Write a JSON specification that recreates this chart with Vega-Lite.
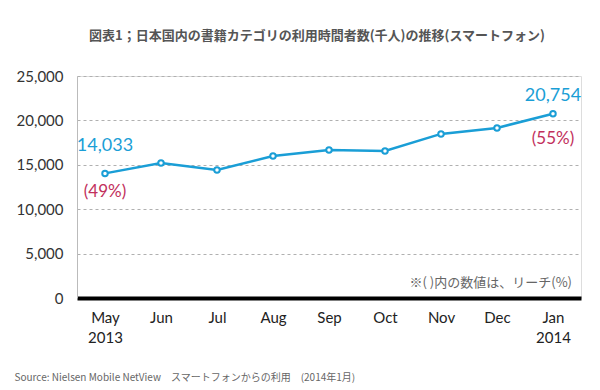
{
  "$schema": "https://vega.github.io/schema/vega-lite/v6.json",
  "width": 504,
  "height": 222,
  "autosize": {"type": "none"},
  "padding": {"left": 77, "top": 76, "right": 19, "bottom": 92},
  "background": "white",
  "title": {
    "text": "図表1；日本国内の書籍カテゴリの利用時間者数(千人)の推移(スマートフォン)",
    "font": "Noto Sans CJK JP",
    "fontSize": 13,
    "fontWeight": "bold",
    "color": "#555555",
    "anchor": "middle",
    "dx": -12,
    "offset": 26
  },
  "data": {
    "values": [
      {"month": "May", "label": "May 2013", "users": 14033, "value_label": "14,033", "reach": "(49%)"},
      {"month": "Jun", "label": "Jun", "users": 15200},
      {"month": "Jul", "label": "Jul", "users": 14420},
      {"month": "Aug", "label": "Aug", "users": 15990},
      {"month": "Sep", "label": "Sep", "users": 16670},
      {"month": "Oct", "label": "Oct", "users": 16560},
      {"month": "Nov", "label": "Nov", "users": 18480},
      {"month": "Dec", "label": "Dec", "users": 19150},
      {"month": "Jan", "label": "Jan 2014", "users": 20754, "value_label": "20,754", "reach": "(55%)"}
    ]
  },
  "encoding": {
    "x": {
      "field": "label",
      "type": "nominal",
      "sort": null,
      "scale": {"paddingInner": 0, "paddingOuter": 0},
      "axis": {
        "labelAngle": 0,
        "labelExpr": "split(datum.label, ' ')",
        "labelFont": "Lato",
        "labelFontSize": 15,
        "labelColor": "#222222",
        "labelPadding": 12,
        "labelLineHeight": 20,
        "ticks": false,
        "domainColor": "#000000",
        "domainWidth": 4,
        "grid": false,
        "title": "Source: Nielsen Mobile NetView　スマートフォンからの利用　(2014年1月)",
        "titleFont": "Noto Sans CJK JP",
        "titleFontSize": 10,
        "titleFontWeight": "normal",
        "titleColor": "#666666",
        "titleAnchor": "start",
        "titleAlign": "left",
        "titleX": -63,
        "titleY": 79,
        "titleBaseline": "middle"
      }
    }
  },
  "layer": [
    {
      "mark": {"type": "line", "color": "#1a9ed6", "strokeWidth": 2.5},
      "encoding": {
        "y": {
          "field": "users",
          "type": "quantitative",
          "scale": {"domain": [0, 25000], "nice": false},
          "axis": {
            "values": [0, 5000, 10000, 15000, 20000, 25000],
            "format": ",.0f",
            "labelFont": "Lato",
            "labelFontSize": 15,
            "labelColor": "#333333",
            "labelPadding": 14,
            "ticks": false,
            "domainColor": "#bbbbbb",
            "domainWidth": 1,
            "gridColor": "#b0b0b0",
            "gridDash": [3, 3],
            "gridWidth": 1,
            "title": null
          }
        }
      }
    },
    {
      "mark": {"type": "point", "shape": "circle", "filled": true, "fill": "white", "stroke": "#1a9ed6", "strokeWidth": 2, "size": 30, "opacity": 1},
      "encoding": {"y": {"field": "users", "type": "quantitative"}}
    },
    {
      "transform": [{"filter": "datum.month == 'May'"}],
      "mark": {"type": "text", "font": "Lato", "fontSize": 18, "color": "#1a9ed6", "dy": -18, "baseline": "bottom"},
      "encoding": {"y": {"field": "users", "type": "quantitative"}, "text": {"field": "value_label"}}
    },
    {
      "transform": [{"filter": "datum.month == 'Jan'"}],
      "mark": {"type": "text", "font": "Lato", "fontSize": 18, "color": "#1a9ed6", "dy": -9, "baseline": "bottom"},
      "encoding": {"y": {"field": "users", "type": "quantitative"}, "text": {"field": "value_label"}}
    },
    {
      "transform": [{"filter": "datum.month == 'May'"}],
      "mark": {"type": "text", "font": "Lato", "fontSize": 17, "color": "#c2305c", "dy": 19, "baseline": "middle"},
      "encoding": {"y": {"field": "users", "type": "quantitative"}, "text": {"field": "reach"}}
    },
    {
      "transform": [{"filter": "datum.month == 'Jan'"}],
      "mark": {"type": "text", "font": "Lato", "fontSize": 17, "color": "#c2305c", "dy": 25, "baseline": "middle"},
      "encoding": {"y": {"field": "users", "type": "quantitative"}, "text": {"field": "reach"}}
    },
    {
      "data": {"values": [{"note": "※( )内の数値は、リーチ(%)", "x": "Jan 2014", "y": 1700}]},
      "mark": {"type": "text", "font": "Noto Sans CJK JP", "fontSize": 13, "color": "#666666", "align": "right", "baseline": "middle", "dx": 19},
      "encoding": {
        "x": {"field": "x", "type": "nominal"},
        "y": {"field": "y", "type": "quantitative"},
        "text": {"field": "note"}
      }
    }
  ]
}
